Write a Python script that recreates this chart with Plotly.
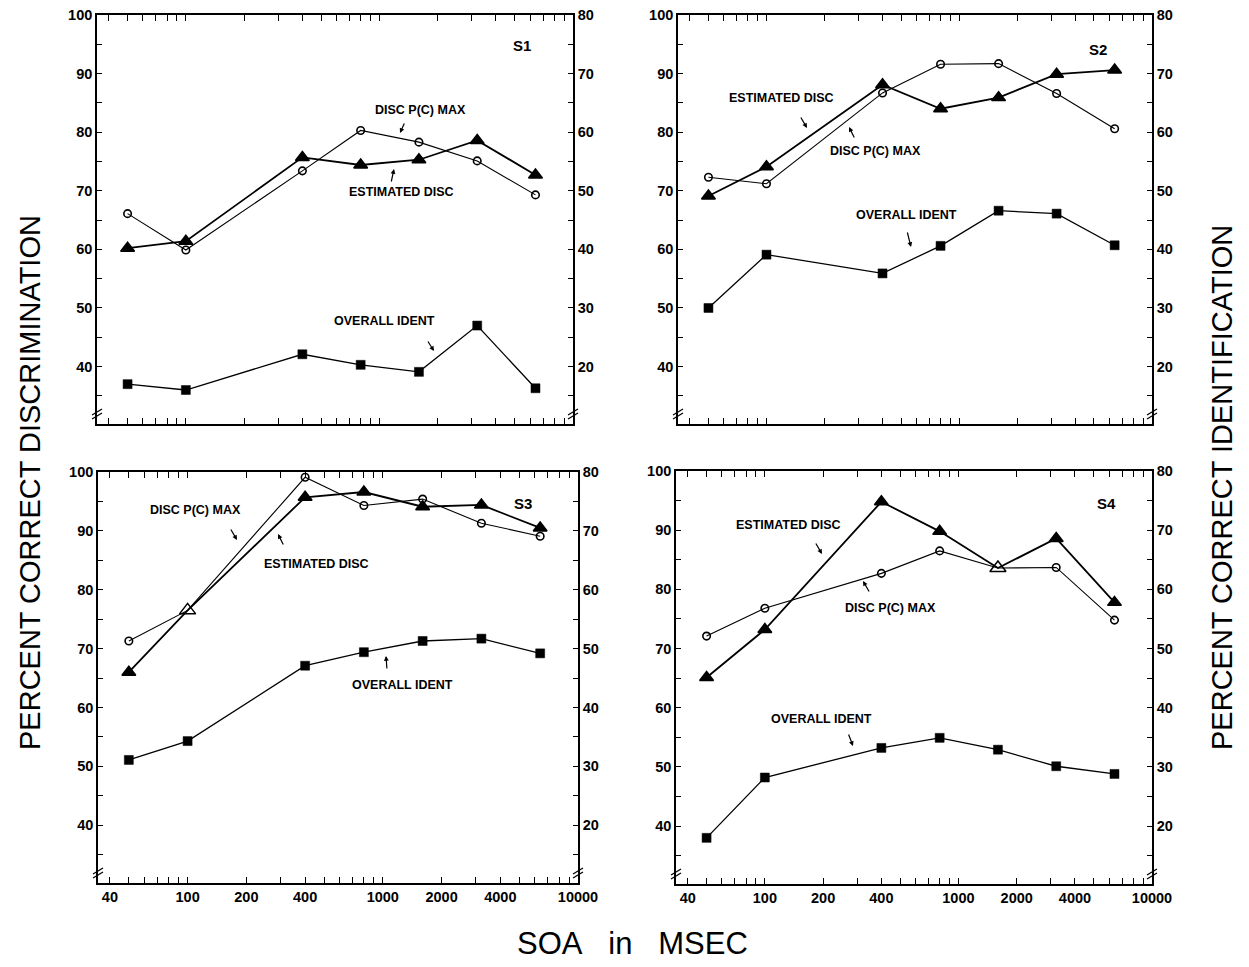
import plotly.graph_objects as go

W, H = 1249, 967
OFF = 8  # page body margin offset in the browser

# ---------------- data ----------------
soa = [50, 100, 400, 800, 1600, 3200, 6400]

s1_pcmax = [66.1, 59.9, 73.4, 80.3, 78.3, 75.1, 69.3]
s1_est = [60.2, 61.4, 75.7, 74.4, 75.3, 78.6, 72.7]
s1_ident = [17.0, 16.0, 22.1, 20.3, 19.1, 27.0, 16.3]

s2_pcmax = [72.3, 71.2, 86.7, 91.6, 91.7, 86.6, 80.6]
s2_est = [69.1, 74.1, 88.1, 84.0, 85.9, 89.9, 90.6]
s2_ident = [30.0, 39.1, 35.9, 40.6, 46.6, 46.1, 40.7]

s3_pcmax = [71.3, 76.5, 99.1, 94.3, 95.4, 91.3, 89.1]
s3_est = [66.0, 76.5, 95.7, 96.6, 94.1, 94.4, 90.5]
s3_ident = [31.1, 34.3, 47.1, 49.4, 51.3, 51.7, 49.2]

s4_pcmax = [72.1, 76.8, 82.7, 86.5, 83.6, 83.7, 74.8]
s4_est = [65.1, 73.2, 94.8, 89.8, 83.6, 88.6, 77.8]
s4_ident = [18.0, 28.2, 33.2, 34.9, 32.9, 30.1, 28.8]

panel_names = ["S1", "S2", "S3", "S4"]
coincident = [None, None, 1, 4]   # index where P(C) max and estimated disc coincide

x_tickvals = [40, 50, 60, 70, 80, 90, 100, 200, 300, 400, 500, 600, 700, 800, 900,
              1000, 2000, 3000, 4000, 5000, 6000, 7000, 8000, 9000, 10000]
x_labels = {40: "40", 100: "100", 200: "200", 400: "400", 1000: "1000",
            2000: "2000", 4000: "4000", 10000: "10000"}
left_ticks = [40, 50, 60, 70, 80, 90, 100]
right_ticks = [20, 30, 40, 50, 60, 70, 80]

lbl_pcmax = "DISC P(C) MAX"
lbl_est = "ESTIMATED DISC"
lbl_ident = "OVERALL IDENT"

# ---------------- layout geometry (pixels) ----------------
boxes = [  # left, right, top, bottom
    (97, 573, 15, 424),
    (678, 1152, 15, 424),
    (98, 578, 472, 883),
    (676, 1152, 471, 884),
]

def px(xp):
    return (xp - OFF) / W

def py(yp):
    return 1 - (yp - OFF) / H

series = [
    (s1_pcmax, s1_est, s1_ident),
    (s2_pcmax, s2_est, s2_ident),
    (s3_pcmax, s3_est, s3_ident),
    (s4_pcmax, s4_est, s4_ident),
]

FONT = "Liberation Sans"
tickfont = dict(family=FONT, size=14.5, color="black", weight="bold")

fig = go.Figure()
layout = dict(
    template="none",
    width=W, height=H, margin=dict(l=0, r=0, t=0, b=0, pad=0, autoexpand=False),
    paper_bgcolor="white", plot_bgcolor="white", showlegend=False,
)

for i in range(4):
    n = i + 1
    xk = "x" if n == 1 else f"x{n}"
    ylk = "y" if n == 1 else f"y{2*n-1}"
    yrk = f"y{2*n}"
    xlay = "xaxis" if n == 1 else f"xaxis{n}"
    yllay = "yaxis" if n == 1 else f"yaxis{2*n-1}"
    yrlay = f"yaxis{2*n}"
    l, r, t, b = boxes[i]
    bottom_row = i >= 2

    layout[xlay] = dict(
        type="log", range=[1.541, 4.0], domain=[px(l), px(r)], anchor=ylk,
        automargin=False, ticklabeloverflow="allow",
        showline=True, linecolor="black", linewidth=1.6, mirror="ticks",
        ticks="inside", ticklen=6, tickwidth=1.4, tickcolor="black",
        tickvals=x_tickvals,
        ticktext=[x_labels.get(v, "") for v in x_tickvals],
        showticklabels=bottom_row, tickfont=tickfont,
        showgrid=False, zeroline=False,
    )
    layout[yllay] = dict(
        range=[30.2, 100], domain=[py(b), py(t)], anchor=xk, side="left",
        automargin=False, ticklabeloverflow="allow",
        showline=True, linecolor="black", linewidth=1.6,
        ticks="inside", ticklen=5, tickwidth=1.4, tickcolor="black",
        tickvals=left_ticks, tickfont=tickfont,
        minor=dict(ticks="inside", dtick=5, tick0=0, ticklen=5, tickwidth=1.4, tickcolor="black"),
        showgrid=False, zeroline=False,
    )
    layout[yrlay] = dict(
        range=[10.2, 80], overlaying=ylk, anchor=xk, side="right",
        automargin=False, ticklabeloverflow="allow",
        showline=True, linecolor="black", linewidth=1.6,
        ticks="inside", ticklen=5, tickwidth=1.4, tickcolor="black",
        tickvals=right_ticks, tickfont=tickfont,
        minor=dict(ticks="inside", dtick=5, tick0=0, ticklen=5, tickwidth=1.4, tickcolor="black"),
        showgrid=False, zeroline=False,
    )

    pc, est, ident = series[i]
    ci = coincident[i]
    circ_sizes = [0 if j == ci else 7.5 for j in range(len(soa))]
    tri_symbols = ["triangle-up-open" if j == ci else "triangle-up" for j in range(len(soa))]
    tri_sizes = [14 if j == ci else 12 for j in range(len(soa))]

    fig.add_trace(go.Scatter(
        x=soa, y=pc, xaxis=xk, yaxis=ylk, mode="lines+markers", name=lbl_pcmax,
        line=dict(color="black", width=1.1),
        marker=dict(symbol="circle-open", size=circ_sizes, color="black", opacity=1,
                    line=dict(width=1.6, color="black")),
    ))
    fig.add_trace(go.Scatter(
        x=soa, y=est, xaxis=xk, yaxis=ylk, mode="lines+markers", name=lbl_est,
        line=dict(color="black", width=1.8),
        marker=dict(symbol=tri_symbols, size=tri_sizes, color="black", opacity=1,
                    line=dict(width=1.5, color="black")),
    ))
    fig.add_trace(go.Scatter(
        x=soa, y=ident, xaxis=xk, yaxis=yrk, mode="lines+markers", name=lbl_ident,
        line=dict(color="black", width=1.3),
        marker=dict(symbol="square", size=9, color="black", opacity=1,
                    line=dict(width=0.5, color="black")),
    ))

# ---------------- annotations ----------------
small = dict(family=FONT, size=12.5, color="black", weight="bold")
big = dict(family=FONT, size=15, color="black", weight="bold")

texts = [
    # (text, x px, y px, font)
    (lbl_pcmax, 420, 110, small), (lbl_est, 401, 192, small), (lbl_ident, 384, 321, small), ("S1", 522, 45, big),
    (lbl_est, 781, 98, small), (lbl_pcmax, 875, 151, small), (lbl_ident, 906, 215, small), ("S2", 1098, 49, big),
    (lbl_pcmax, 195, 510, small), (lbl_est, 316, 564, small), (lbl_ident, 402, 685, small), ("S3", 523, 503, big),
    (lbl_est, 788, 525, small), (lbl_pcmax, 890, 608, small), (lbl_ident, 821, 719, small), ("S4", 1106, 503, big),
]
arrows = [  # tail (x,y) -> head (x,y) in pixels
    (405, 122, 400, 133), (391, 183, 394, 169), (427, 340, 434, 351),
    (800, 116, 807, 128), (855, 139, 849, 127), (907, 231, 911, 247),
    (230, 528, 237, 540), (284, 546, 278, 534), (387, 670, 386, 656),
    (815, 542, 822, 554), (870, 593, 863, 581), (848, 733, 853, 746),
]

annotations = []
for txt, x, y, f in texts:
    annotations.append(dict(text=txt, x=px(x), y=py(y), xref="paper", yref="paper",
                            showarrow=False, font=f, xanchor="center", yanchor="middle"))
for x0, y0, x1, y1 in arrows:
    annotations.append(dict(text="", x=px(x1), y=py(y1), xref="paper", yref="paper",
                            ax=x0 - x1, ay=y0 - y1, showarrow=True, arrowhead=2,
                            arrowsize=0.8, arrowwidth=1.2, arrowcolor="black"))

title_font = dict(family=FONT, size=29, color="black")
annotations.append(dict(text="PERCENT CORRECT DISCRIMINATION", x=px(30), y=py(483),
                        xref="paper", yref="paper", showarrow=False, textangle=-90,
                        font=title_font, xanchor="center", yanchor="middle"))
annotations.append(dict(text="PERCENT CORRECT IDENTIFICATION", x=px(1222), y=py(488),
                        xref="paper", yref="paper", showarrow=False, textangle=-90,
                        font=title_font, xanchor="center", yanchor="middle"))
annotations.append(dict(text="SOA\u00a0\u00a0 in\u00a0\u00a0 MSEC", x=px(632), y=py(943),
                        xref="paper", yref="paper", showarrow=False,
                        font=dict(family=FONT, size=31, color="black"),
                        xanchor="center", yanchor="middle"))
layout["annotations"] = annotations

# axis break marks near the bottom of each vertical axis
shapes = []
for l, r, t, b in boxes:
    for xa in (l, r):
        for dy in (0, 4):
            yb = b - 12 + dy
            shapes.append(dict(type="line", xref="paper", yref="paper",
                               x0=px(xa - 5), y0=py(yb + 3), x1=px(xa + 5), y1=py(yb - 3),
                               line=dict(color="black", width=1.3)))
layout["shapes"] = shapes

fig.update_layout(**layout)
fig.write_html("out.html")
